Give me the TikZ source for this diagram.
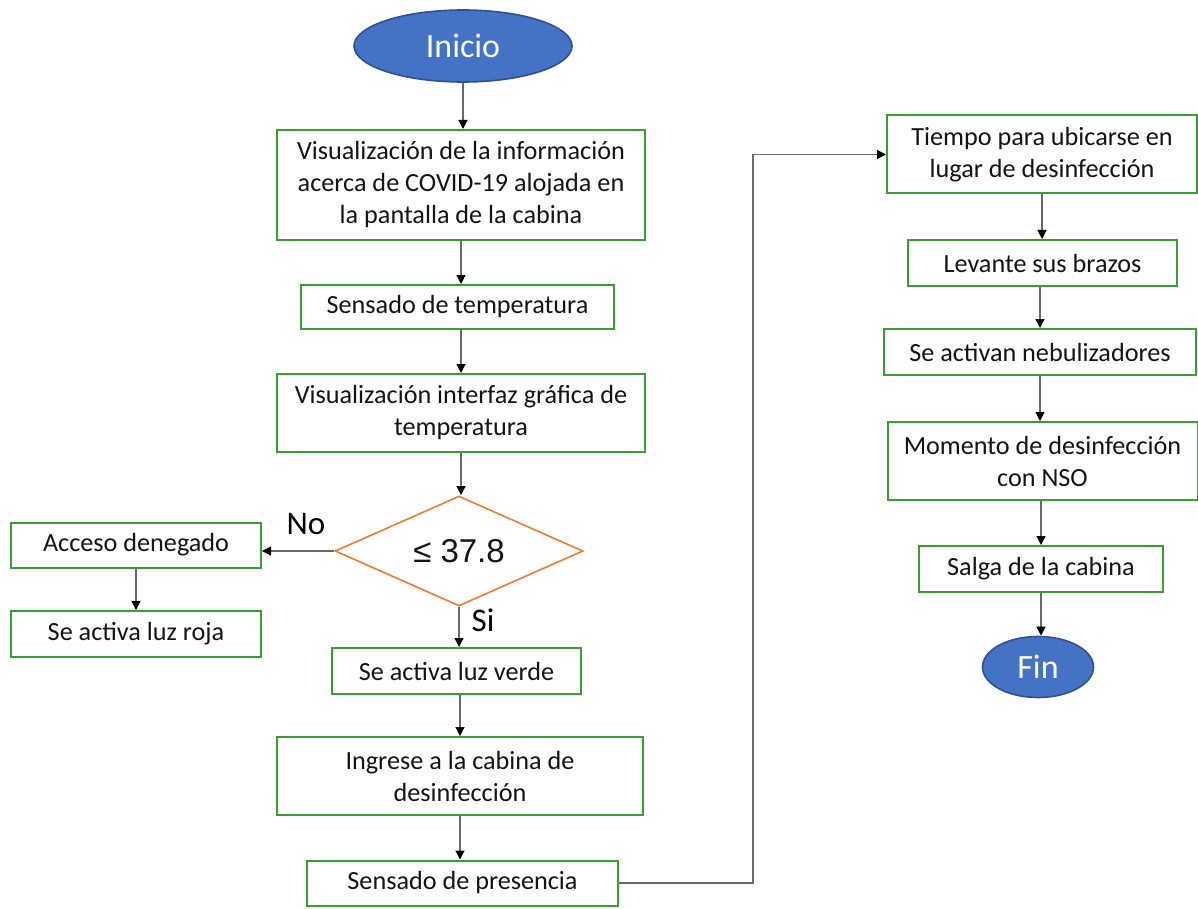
\documentclass[tikz,border=0pt]{standalone}
\usepackage{fontspec}
\setmainfont{Carlito}
\newfontfamily\arialf{Liberation Sans}
\usetikzlibrary{shapes.geometric,arrows.meta}
\definecolor{boxgreen}{RGB}{58,158,50}
\definecolor{termfill}{RGB}{68,114,196}
\definecolor{termdraw}{RGB}{47,82,143}
\definecolor{diaorange}{RGB}{237,125,49}
\definecolor{linegray}{RGB}{105,105,105}
\definecolor{txt}{RGB}{20,20,20}
\tikzset{
  stepbox/.style={draw=boxgreen, line width=1pt, fill=white, rectangle, inner sep=0pt,
    align=center, text=txt, font=\fontsize{13.1}{16}\selectfont},
  term/.style={ellipse, draw=termdraw, line width=0.8pt, fill=termfill, inner sep=0pt,
    text=white, font=\fontsize{17}{20}\selectfont},
  decis/.style={diamond, aspect=2.25, draw=diaorange, line width=0.8pt, inner sep=0pt,
    text=txt, font=\arialf\fontsize{16.5}{19}\selectfont},
  conn/.style={draw=linegray, line width=0.6pt, -{Triangle[length=4.5pt,width=4.5pt,fill=black,color=black]}},
  lbl/.style={text=black, font=\fontsize{16.5}{19}\selectfont, inner sep=0pt}
}
\begin{document}
\begin{tikzpicture}[x=0.5pt,y=-0.5pt]
\useasboundingbox (0,0) rectangle (1198,909);
% left/center column
\node[term, minimum width=109pt, minimum height=36pt] (inicio) at (463,46) {Inicio};
\node[stepbox, minimum width=184pt, minimum height=55pt] (b1) at (461,185)
  {Visualización de la información\\acerca de COVID-19 alojada en\\la pantalla de la cabina};
\node[stepbox, minimum width=156.5pt, minimum height=22pt] (b2) at (457.5,307) {Sensado de temperatura};
\node[stepbox, minimum width=184pt, minimum height=39pt] (b3) at (461,413)
  {Visualización interfaz gráfica de\\temperatura};
\node[decis, minimum width=124pt, minimum height=55pt] (dia) at (459,551) {≤ 37.8};
\node[stepbox, minimum width=125pt, minimum height=22.5pt] (acc) at (136,545) {Acceso denegado};
\node[stepbox, minimum width=125pt, minimum height=23pt] (roja) at (136,634) {Se activa luz roja};
\node[stepbox, minimum width=124.5pt, minimum height=23pt] (verde) at (456.5,671) {Se activa luz verde};
\node[stepbox, minimum width=183pt, minimum height=39pt] (ingrese) at (460,776)
  {Ingrese a la cabina de\\desinfección};
\node[stepbox, minimum width=155.5pt, minimum height=22.5pt] (presencia) at (462.5,883) {Sensado de presencia};
% right column
\node[stepbox, minimum width=155pt, minimum height=39pt] (tiempo) at (1042,154.5)
  {Tiempo para ubicarse en\\lugar de desinfección};
\node[stepbox, minimum width=134.5pt, minimum height=23pt] (levante) at (1042.5,263) {Levante sus brazos};
\node[stepbox, minimum width=156pt, minimum height=23pt] (nebul) at (1040,352) {Se activan nebulizadores};
\node[stepbox, minimum width=155pt, minimum height=39pt] (momento) at (1042.5,461)
  {Momento de desinfección\\con NSO};
\node[stepbox, minimum width=122pt, minimum height=23pt] (salga) at (1041,569) {Salga de la cabina};
\node[term, minimum width=55.5pt, minimum height=30.5pt] (fin) at (1038,667) {Fin};
% labels
\node[lbl] (no) at (306,524) {No};
\node[lbl] (si) at (483,620) {Si};
\coordinate (corner) at (753,154.5);
% connectors
\draw[conn] (inicio.south) -- (inicio.south |- b1.north);
\draw[conn] (b1.south) -- (b1.south |- b2.north);
\draw[conn] (b2.south -| b1.south) -- (b3.north);
\draw[conn] (b3.south) -- (b3.south |- dia.north);
\draw[conn] (dia.west) -- (acc.east |- dia.west);
\draw[conn] (acc.south) -- (roja.north);
\draw[conn] (dia.south) -- (dia.south |- verde.north);
\draw[conn] (verde.south -| ingrese.north) -- (ingrese.north);
\draw[conn] (ingrese.south) -- (ingrese.south |- presencia.north);
\draw[conn] (presencia.east) -| (corner) -- (tiempo.west);
\draw[conn] (tiempo.south) -- (tiempo.south |- levante.north);
\draw[conn] (levante.south -| nebul.north) -- (nebul.north);
\draw[conn] (nebul.south) -- (nebul.south |- momento.north);
\draw[conn] (momento.south -| salga.north) -- (salga.north);
\draw[conn] (salga.south) -- (salga.south |- fin.north);
\end{tikzpicture}
\end{document}
